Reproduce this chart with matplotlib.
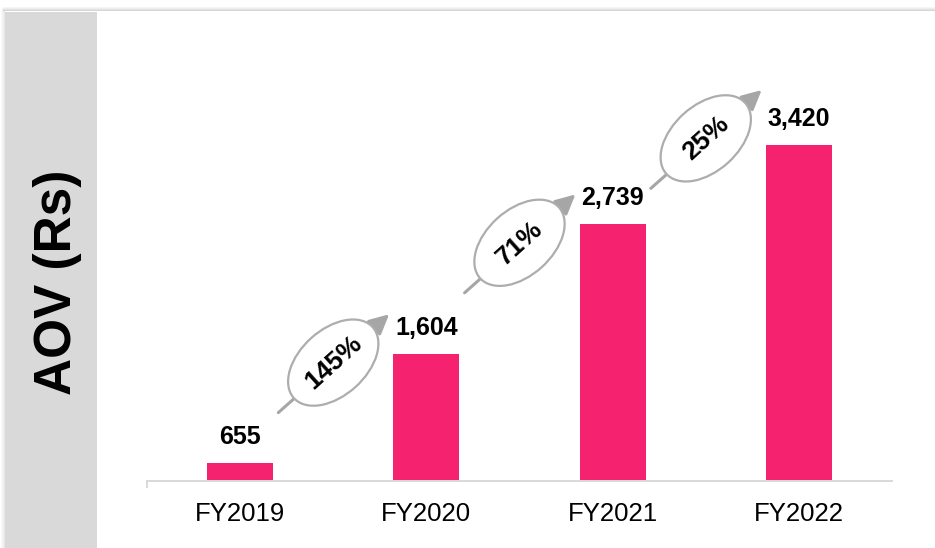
#!/usr/bin/env python3
"""AOV (Rs) by fiscal year, bar chart with year-on-year growth callouts."""

import matplotlib

matplotlib.use("Agg")
import matplotlib.pyplot as plt
from matplotlib.patches import Ellipse, Rectangle
from matplotlib.transforms import ScaledTranslation

years = ["FY2019", "FY2020", "FY2021", "FY2022"]
aov = [655, 1604, 2739, 3420]
growth = ["145%", "71%", "25%"]

BAR = "#F4226F"
GREY = "#A6A6A6"
PANEL = "#D9D9D9"

plt.rcParams["font.family"] = ["Liberation Sans", "DejaVu Sans"]

W, H = 935, 548
fig = plt.figure(figsize=(W / 100, H / 100), dpi=100)

# grey side panel and the faint shadow along the top edge
fig.patches.append(Rectangle((5 / W, 0), 92 / W, 536 / H, transform=fig.transFigure,
                             facecolor=PANEL, edgecolor="none", zorder=0))
for k, a in enumerate([0.04, 0.07, 0.11, 0.16]):
    fig.patches.append(Rectangle((3 / W, (536 + 4 - k) / H), 1 - 3 / W, 1 / H,
                                 transform=fig.transFigure, facecolor="black",
                                 edgecolor="none", alpha=a, zorder=0))
    fig.patches.append(Rectangle(((1 + k) / W, 0), 1 / W, (536 + 4 - k) / H,
                                 transform=fig.transFigure, facecolor="black",
                                 edgecolor="none", alpha=a * 0.6, zorder=0))

ax = fig.add_axes([147 / W, 67 / H, 745 / W, 0.8394])
ax.set_facecolor("none")
x = list(range(len(years)))
ax.bar(x, aov, width=0.355, color=BAR, zorder=2)
ax.set_xlim(-0.5, len(years) - 0.5)
ax.set_ylim(500, 4500)

for s in ["top", "right", "left"]:
    ax.spines[s].set_visible(False)
ax.spines["bottom"].set_color(PANEL)
ax.spines["bottom"].set_linewidth(1.4)
ax.set_yticks([])
ax.set_xticks(x)
ax.set_xticklabels(years, fontsize=18.5)
ax.tick_params(axis="x", length=0, pad=15)
ax.set_xticks([-0.5], minor=True)
ax.tick_params(axis="x", which="minor", length=5, width=1.4, color=PANEL)

for xi, v in zip(x, aov):
    ax.annotate(f"{v:,}", (xi, v), xytext=(0, 13.5), textcoords="offset points",
                ha="center", va="baseline", fontsize=18, fontweight="bold")

for i, label in enumerate(growth):
    cx = i + 0.5
    cy = (aov[i] + aov[i + 1]) / 2 + 400
    ax.annotate("", xy=(cx + 0.3, cy + 420), xytext=(cx - 0.295, cy - 435),
                arrowprops=dict(arrowstyle="-|>", color=GREY, lw=2.2,
                                mutation_scale=30, shrinkA=0, shrinkB=0),
                zorder=3)
    tr = fig.dpi_scale_trans + ScaledTranslation(cx, cy, ax.transData)
    ax.add_patch(Ellipse((0, 0), 1.06, 0.66, angle=42, transform=tr,
                         facecolor="white", edgecolor="#ADADAD", lw=1.6, zorder=4))
    ax.text(cx, cy, label, rotation=42, rotation_mode="anchor", ha="center",
            va="center", fontsize=19, fontweight="bold", zorder=5)

fig.text(58 / W, 1 - 282 / H, "AOV (Rs)", rotation=90, ha="center", va="center",
         fontsize=37, fontweight="bold")

fig.savefig("out.png", dpi=100)
